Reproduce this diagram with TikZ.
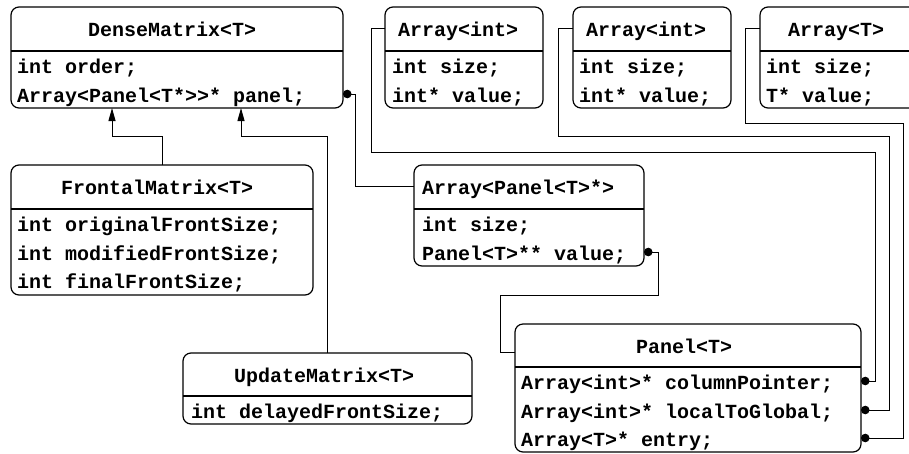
\documentclass[tikz,border=0pt]{standalone}
\usepackage{fontspec}
\setmonofont{Liberation Mono}
\usetikzlibrary{arrows.meta,calc}
\begin{document}
\begin{tikzpicture}[x=1pt,y=-1pt,
  umlbox/.style={draw, line width=1.2pt, rounded corners=8pt, inner sep=0pt, outer sep=0pt, anchor=north west},
  umltext/.style={font=\fontsize{20}{24}\selectfont\ttfamily\bfseries, inner sep=0pt, outer sep=0pt, anchor=west, text height=16pt, text depth=0pt},
  seprule/.style={line width=1.2pt},
  conn/.style={line width=1pt},
  ptr/.style={conn, {Circle[length=8.5pt]}-},
  inherit/.style={conn, -{Triangle[length=13pt,width=7pt]}}]
\useasboundingbox (0,0) rectangle (909,453);
\clip (0,0) rectangle (909,453);

% DenseMatrix
\node[umlbox, minimum width=332pt, minimum height=101pt] (dm) at (11,7) {};
\draw[seprule] (dm.west |- 0,51) -- (dm.east |- 0,51);
\node[umltext] (dmh) at (88,28) {DenseMatrix<T>};
\node[umltext] (dm1) at (17,65) {int order;};
\node[umltext] (dm2) at (17,94) {Array<Panel<T*>>* panel;};

% Array<int> 1
\node[umlbox, minimum width=158pt, minimum height=101pt] (ai1) at (385,7) {};
\draw[seprule] (ai1.west |- 0,51) -- (ai1.east |- 0,51);
\node[umltext] (ai1h) at (398,28) {Array<int>};
\node[umltext] (ai11) at (392,65) {int size;};
\node[umltext] (ai12) at (392,94) {int* value;};

% Array<int> 2
\node[umlbox, minimum width=158pt, minimum height=101pt] (ai2) at (573,7) {};
\draw[seprule] (ai2.west |- 0,51) -- (ai2.east |- 0,51);
\node[umltext] (ai2h) at (586,28) {Array<int>};
\node[umltext] (ai21) at (579,65) {int size;};
\node[umltext] (ai22) at (579,94) {int* value;};

% Array<T>
\node[umlbox, minimum width=158pt, minimum height=101pt] (at) at (760,7) {};
\draw[seprule] (at.west |- 0,51) -- (at.east |- 0,51);
\node[umltext] (ath) at (788,28) {Array<T>};
\node[umltext] (at1) at (766,65) {int size;};
\node[umltext] (at2) at (766,94) {T* value;};

% FrontalMatrix
\node[umlbox, minimum width=302pt, minimum height=130pt] (fm) at (11,165) {};
\draw[seprule] (fm.west |- 0,209) -- (fm.east |- 0,209);
\node[umltext] (fmh) at (61,186) {FrontalMatrix<T>};
\node[umltext] (fm1) at (17,223) {int originalFrontSize;};
\node[umltext] (fm2) at (17,252) {int modifiedFrontSize;};
\node[umltext] (fm3) at (17,280) {int finalFrontSize;};

% UpdateMatrix
\node[umlbox, minimum width=289pt, minimum height=71pt] (um) at (183,353) {};
\draw[seprule] (um.west |- 0,396) -- (um.east |- 0,396);
\node[umltext] (umh) at (234,374) {UpdateMatrix<T>};
\node[umltext] (um1) at (191,410) {int delayedFrontSize;};

% Array<Panel<T>*>
\node[umlbox, minimum width=230pt, minimum height=101pt] (ap) at (414,165) {};
\draw[seprule] (ap.west |- 0,209) -- (ap.east |- 0,209);
\node[umltext] (aph) at (422,186) {Array<Panel<T>*>};
\node[umltext] (ap1) at (422,223) {int size;};
\node[umltext] (ap2) at (422,252) {Panel<T>** value;};

% Panel<T>
\node[umlbox, minimum width=346pt, minimum height=128pt] (pn) at (515,324) {};
\draw[seprule] (pn.west |- 0,367) -- (pn.east |- 0,367);
\node[umltext] (pnh) at (636,345) {Panel<T>};
\node[umltext] (pn1) at (521,381) {Array<int>* columnPointer;};
\node[umltext] (pn2) at (521,410) {Array<int>* localToGlobal;};
\node[umltext] (pn3) at (521,438) {Array<T>* entry;};
\coordinate (pnin) at ($(pn.north west)+(0,28)$);

% inheritance
\draw[inherit] (fm.north) |- (112,136) -- ($(dm.south west)+(101,0)$);
\draw[inherit] (um.north) |- (241,136) -- ($(dm.south west)+(230,0)$);

% pointers
\draw[ptr] (dm.east |- dm2) -| (355,186) -- (ap.west |- aph);
\draw[ptr] (ap.east |- ap2) -| (658,295) -| (500,352) -- (pnin);
\draw[ptr] (pn.east |- pn1) -| (875,152) -| (371,28) -- (ai1.west |- ai1h);
\draw[ptr] (pn.east |- pn2) -| (889,136) -| (558,28) -- (ai2.west |- ai2h);
\draw[ptr] (pn.east |- pn3) -| (903,123) -| (745,28) -- (at.west |- ath);
\end{tikzpicture}
\end{document}
